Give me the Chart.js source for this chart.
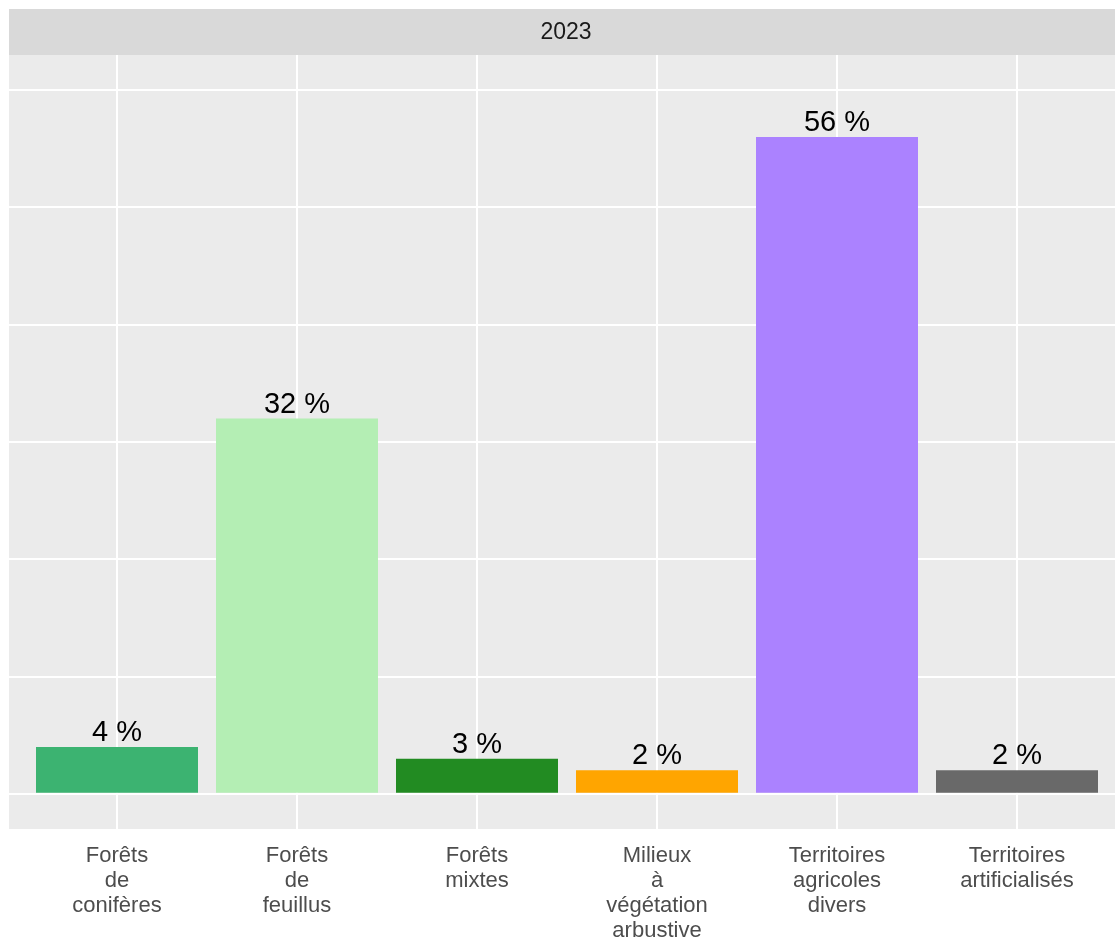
<!DOCTYPE html>
<html lang="fr">
<head>
<meta charset="utf-8">
<title>Occupation du sol 2023</title>
<script src="https://cdn.jsdelivr.net/npm/chart.js@4.4.1/dist/chart.umd.min.js"></script>
<style>
  html, body { margin: 0; padding: 0; background: #ffffff; overflow: hidden; }
  #wrap { width: 1125px; height: 939px; }
</style>
</head>
<body>
<div id="wrap"><canvas id="graphique" width="1125" height="939"></canvas></div>
<script>
// Données
const annee = '2023';
const categories = [
  ['Forêts', 'de', 'conifères'],
  ['Forêts', 'de', 'feuillus'],
  ['Forêts', 'mixtes'],
  ['Milieux', 'à', 'végétation', 'arbustive'],
  ['Territoires', 'agricoles', 'divers'],
  ['Territoires', 'artificialisés']
];
const pourcentages = [4, 32, 3, 2, 56, 2];
const couleurs = ['#3CB371', '#B4EEB4', '#228B22', '#FFA500', '#AB82FF', '#696969'];
const graduationsY = [0, 10, 20, 30, 40, 50, 60];

const police = '"Liberation Sans", Arial, sans-serif';

// Fond du panneau + bandeau de facette
const fondPanneau = {
  id: 'fondPanneau',
  beforeDraw(chart) {
    const { ctx, chartArea } = chart;
    ctx.save();
    ctx.fillStyle = '#EBEBEB';
    ctx.fillRect(chartArea.left, chartArea.top, chartArea.right - chartArea.left, chartArea.bottom - chartArea.top);
    // bandeau "2023"
    ctx.fillStyle = '#D9D9D9';
    ctx.fillRect(chartArea.left, 9, chartArea.right - chartArea.left, chartArea.top - 9);
    ctx.fillStyle = '#1A1A1A';
    ctx.font = '23px ' + police;
    ctx.textAlign = 'center';
    ctx.textBaseline = 'middle';
    ctx.fillText(annee, (chartArea.left + chartArea.right) / 2 - 1, (9 + chartArea.top) / 2 + 1);
    ctx.restore();
  }
};

// Étiquettes au-dessus des barres
const etiquettesBarres = {
  id: 'etiquettesBarres',
  afterDatasetsDraw(chart) {
    const { ctx } = chart;
    const meta = chart.getDatasetMeta(0);
    ctx.save();
    ctx.fillStyle = '#000000';
    ctx.font = '29px ' + police;
    ctx.textAlign = 'center';
    ctx.textBaseline = 'alphabetic';
    meta.data.forEach((barre, i) => {
      ctx.fillText(pourcentages[i] + ' %', barre.x, barre.y - 6);
    });
    ctx.restore();
  }
};

const ctx = document.getElementById('graphique');

new Chart(ctx, {
  type: 'bar',
  data: {
    datasets: [{
      data: pourcentages.map((v, i) => ({ x: i, y: v })),
      backgroundColor: couleurs,
      borderWidth: 0,
      barPercentage: 0.9,
      categoryPercentage: 1.0
    }]
  },
  options: {
    responsive: false,
    animation: false,
    devicePixelRatio: 1,
    layout: {
      padding: { left: 9, top: 55, right: 0, bottom: 0 }
    },
    plugins: {
      legend: { display: false },
      tooltip: { enabled: false }
    },
    scales: {
      x: {
        type: 'linear',
        min: -0.6,
        max: 5.6,
        offset: false,
        afterBuildTicks: (axe) => {
          axe.ticks = categories.map((c, i) => ({ value: i }));
        },
        afterFit: (axe) => {
          axe.height = 110;
        },
        border: { display: false },
        grid: {
          color: '#FFFFFF',
          lineWidth: 2,
          drawTicks: false,
          offset: false
        },
        ticks: {
          autoSkip: false,
          maxRotation: 0,
          padding: 14,
          color: '#4D4D4D',
          font: { family: police, size: 22, lineHeight: 25 / 22 },
          callback: (valeur) => categories[valeur]
        }
      },
      y: {
        min: -3,
        max: 63,
        afterBuildTicks: (axe) => {
          axe.ticks = graduationsY.map(v => ({ value: v }));
        },
        border: { display: false },
        grid: {
          color: '#FFFFFF',
          lineWidth: 2,
          drawTicks: false
        },
        ticks: { display: false }
      }
    }
  },
  plugins: [fondPanneau, etiquettesBarres]
});
</script>
</body>
</html>
